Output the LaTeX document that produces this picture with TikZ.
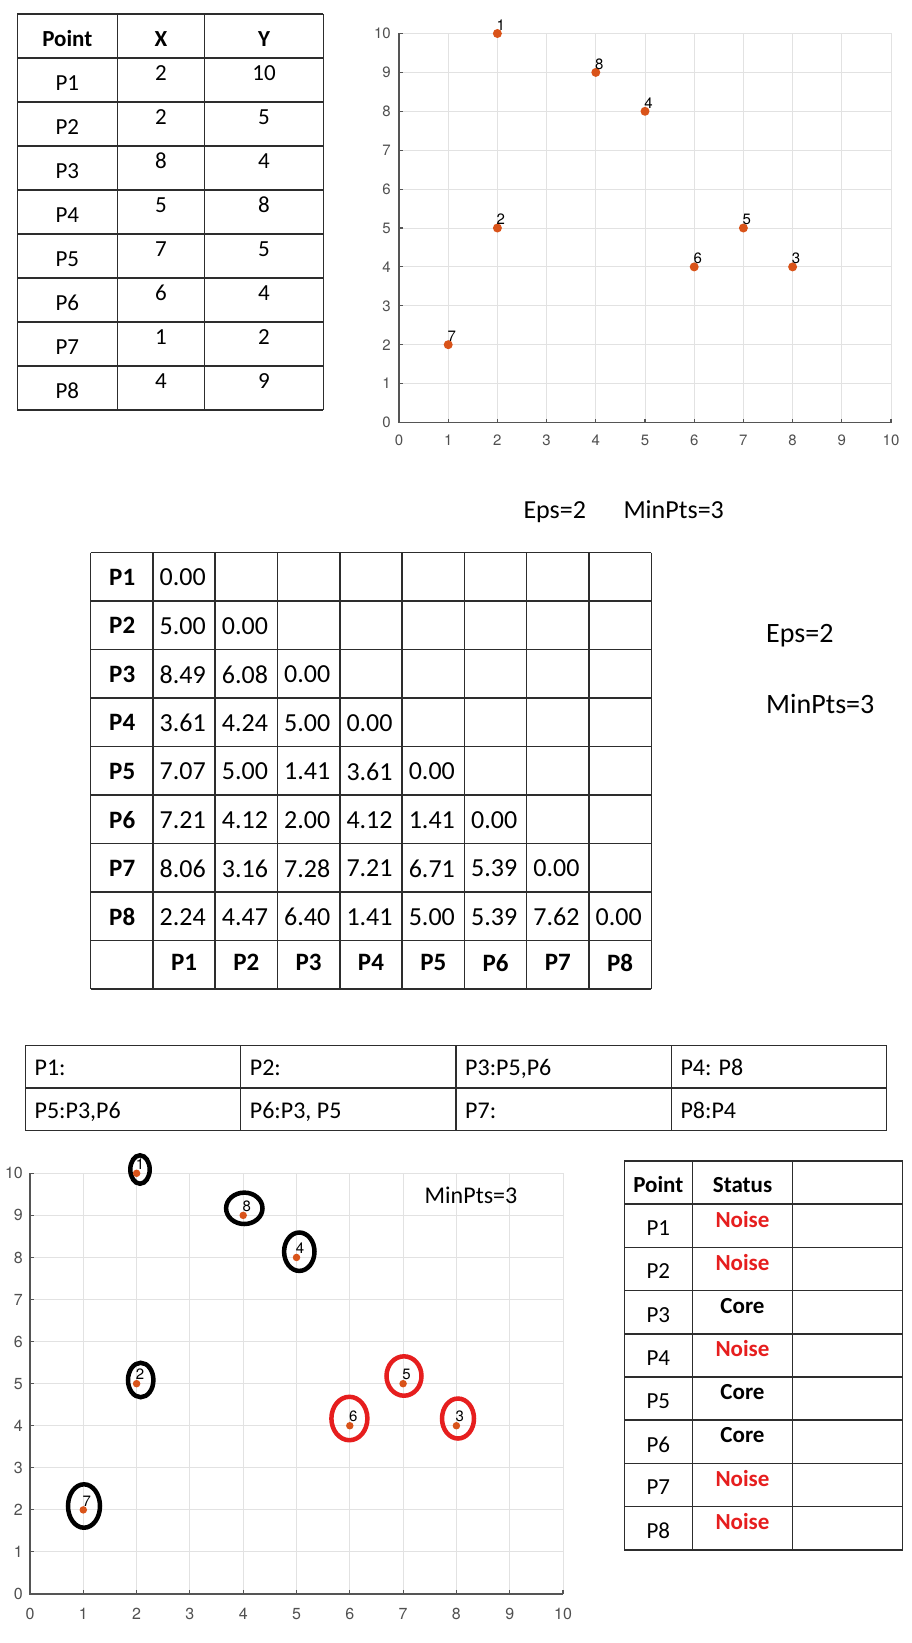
\documentclass[tikz,border=0pt]{standalone}
\usepackage{fontspec}
\setmainfont{Carlito}
\newfontfamily\helv{TeX Gyre Heros}
\definecolor{ptorange}{RGB}{217,83,25}
\definecolor{gridgray}{RGB}{226,226,226}
\definecolor{axisgray}{RGB}{85,85,85}
\definecolor{ticktext}{RGB}{80,80,80}
\definecolor{noisered}{RGB}{230,30,30}
\definecolor{tableline}{RGB}{45,45,45}
\begin{document}
\begin{tikzpicture}[x=1pt,y=-1pt,
  tline/.style={draw=tableline, line width=1.5pt},
  gridc/.style={draw=gridgray, line width=0.9pt},
  axisc/.style={draw=axisgray, line width=1.6pt},
  tickc/.style={draw=axisgray, line width=1.1pt},
  txtA/.style={font=\fontsize{23}{27}\selectfont, inner sep=0pt, text=black},
  txtAb/.style={font=\fontsize{23}{27}\selectfont\bfseries, inner sep=0pt, text=black},
  txtM/.style={font=\fontsize{26}{30}\selectfont, inner sep=0pt, text=black},
  txtMb/.style={font=\fontsize{25}{30}\selectfont\bfseries, inner sep=0pt, text=black},
  txtN/.style={font=\fontsize{24}{28}\selectfont, inner sep=0pt, text=black},
  tickA/.style={font=\helv\fontsize{15}{18}\selectfont, inner sep=0pt, text=ticktext},
  tickB/.style={font=\helv\fontsize{16}{19}\selectfont, inner sep=0pt, text=ticktext},
  ptlbl/.style={font=\helv\fontsize{15}{18}\selectfont, inner sep=0pt, text=black},
  dotA/.style={circle, fill=ptorange, minimum size=9pt, inner sep=0pt},
  dotB/.style={circle, fill=ptorange, minimum size=7.5pt, inner sep=0pt},
  blackring/.style={draw=black, line width=4.5pt},
  redring/.style={draw=noisered, line width=4.5pt}]
\fill[white] (0,0) rectangle (912,1643);
\useasboundingbox (0,0) rectangle (912,1643);

% ---------------- Table 1 ----------------
\foreach \k in {0,...,9} \draw[tline] (17.3,{14+44*\k}) -- (323.3,{14+44*\k});
\foreach \xx in {17.3,117.3,204.7,323.3} \draw[tline] (\xx,14) -- (\xx,410);
\node[txtAb] (t1hp) at (67.3,39) {Point};
\node[txtAb] (t1hx) at (161,39) {X};
\node[txtAb] (t1hy) at (264,39) {Y};
\foreach \xv/\yv [count=\i] in {2/10,2/5,8/4,5/8,7/5,6/4,1/2,4/9} {
  \node[txtA] (t1p\i) at (67.3,{14+44*\i+25}) {P\i};
  \node[txtA] (t1x\i) at (161,{14+44*\i+15}) {\xv};
  \node[txtA] (t1y\i) at (264,{14+44*\i+15}) {\yv};
}

% ---------------- Chart 1 ----------------
\begin{scope}[shift={(399pt,-422.5pt)}, x=49.2pt, y=38.9pt]
  \foreach \i in {1,...,10} \draw[gridc] (\i,0) -- (\i,10);
  \foreach \i in {1,...,10} \draw[gridc] (0,\i) -- (10,\i);
  \draw[axisc] (0,10) -- (0,0) -- (10,0);
  \foreach \i in {0,...,10} {
    \draw[tickc] (\i,0) -- ++(0pt,4pt);
    \draw[tickc] (0,\i) -- ++(4pt,0pt);
    \node[tickA, yshift=-17.5pt] (c1x\i) at (\i,0) {\i};
    \node[tickA, anchor=east, xshift=-8pt] (c1y\i) at (0,\i) {\i};
  }
  \foreach \n/\px/\py in {1/2/10,2/2/5,3/8/4,4/5/8,5/7/5,6/6/4,7/1/2,8/4/9} {
    \node[dotA] (c1p\n) at (\px,\py) {};
    \node[ptlbl, xshift=3.5pt, yshift=8.5pt] (c1l\n) at (\px,\py) {\n};
  }
\end{scope}

% ---------------- Eps / MinPts ----------------
\node[txtM, anchor=base west] (eps1) at (523.3,518.3) {Eps=2};
\node[txtM, anchor=base west] (min1) at (623.3,518.3) {MinPts=3};
\node[font=\fontsize{28}{32}\selectfont, inner sep=0pt, anchor=base west] (eps2) at (766,642.7) {Eps=2};
\node[font=\fontsize{28}{32}\selectfont, inner sep=0pt, anchor=base west] (min2) at (766,713) {MinPts=3};

% ---------------- Distance matrix ----------------
\foreach \k in {0,...,9} \draw[tline] (90.6,{552.7+48.5*\k}) -- (651.3,{552.7+48.5*\k});
\foreach \k in {0,...,9} \draw[tline] ({90.6+62.3*\k},552.7) -- ({90.6+62.3*\k},989.2);
\foreach \i in {1,...,8} {
  \node[txtMb] (mr\i) at (122.2,{552.7+48.5*(\i-1)+24.5}) {P\i};
  \node[txtMb] (mc\i) at ({90.6+62.3*\i+31.15},{552.7+48.5*8+22}) {P\i};
}
\foreach \row [count=\i] in {{0.00},{5.00,0.00},{8.49,6.08,0.00},{3.61,4.24,5.00,0.00},{7.07,5.00,1.41,3.61,0.00},{7.21,4.12,2.00,4.12,1.41,0.00},{8.06,3.16,7.28,7.21,6.71,5.39,0.00},{2.24,4.47,6.40,1.41,5.00,5.39,7.62,0.00}} {
  \foreach \v [count=\j] in \row {
    \node[txtM, anchor=west] (m\i-\j) at ({90.6+62.3*\j+6.5},{552.7+48.5*(\i-1)+24.8}) {\v};
  }
}

% ---------------- Neighbour table ----------------
\foreach \yy in {1045.4,1088,1130.6} \draw[tline] (25.4,\yy) -- (886.6,\yy);
\foreach \k in {0,...,4} \draw[tline] ({25.4+215.3*\k},1045.4) -- ({25.4+215.3*\k},1130.6);
\foreach \t [count=\j] in {P1:,P2:,{P3:P5,P6},P4: P8} {
  \node[txtN, anchor=base west] (na\j) at ({25.4+215.3*(\j-1)+9},1075.6) {\t};
}
\foreach \t [count=\j] in {{P5:P3,P6},{P6:P3, P5},P7:,P8:P4} {
  \node[txtN, anchor=base west] (nb\j) at ({25.4+215.3*(\j-1)+9},1118.4) {\t};
}

% ---------------- Chart 2 ----------------
\begin{scope}[shift={(30pt,-1594pt)}, x=53.3pt, y=42.07pt]
  \foreach \i in {1,...,10} \draw[gridc] (\i,0) -- (\i,10);
  \foreach \i in {1,...,10} \draw[gridc] (0,\i) -- (10,\i);
  \draw[axisc] (0,10) -- (0,0) -- (10,0);
  \foreach \i in {0,...,10} {
    \draw[tickc] (\i,0) -- ++(0pt,4pt);
    \draw[tickc] (0,\i) -- ++(4pt,0pt);
    \node[tickB, yshift=-20pt] (c2x\i) at (\i,0) {\i};
    \node[tickB, anchor=east, xshift=-7pt] (c2y\i) at (0,\i) {\i};
  }
\end{scope}
\draw[blackring] (140,1169.5) ellipse [x radius=9.7pt, y radius=14.2pt];
\draw[blackring] (244.3,1208.3) ellipse [x radius=18.2pt, y radius=15.7pt];
\draw[blackring] (299.3,1251.7) ellipse [x radius=15.2pt, y radius=19.2pt];
\draw[blackring] (140.7,1380) ellipse [x radius=12.7pt, y radius=17.2pt];
\draw[blackring] (84,1506) ellipse [x radius=16pt, y radius=21.7pt];
\draw[redring] (349.4,1418.5) ellipse [x radius=18pt, y radius=21.7pt];
\draw[redring] (404,1376) ellipse [x radius=17.5pt, y radius=19.7pt];
\draw[redring] (458,1418.5) ellipse [x radius=16pt, y radius=20pt];
\begin{scope}[shift={(30pt,-1594pt)}, x=53.3pt, y=42.07pt]
  \foreach \n/\px/\py in {1/2/10,2/2/5,3/8/4,4/5/8,5/7/5,6/6/4,7/1/2,8/4/9} {
    \node[dotB] (c2p\n) at (\px,\py) {};
    \node[ptlbl, xshift=3.5pt, yshift=9pt] (c2l\n) at (\px,\py) {\n};
  }
\end{scope}
\node[txtN, anchor=base] (min3) at (471,1203) {MinPts=3};

% ---------------- Status table ----------------
\foreach \k in {0,...,9} \draw[tline] (624.3,{1161+43.2*\k}) -- (902.7,{1161+43.2*\k});
\foreach \xx in {624.3,692.3,792.7,902.7} \draw[tline] (\xx,1161) -- (\xx,1549.8);
\node[txtAb] (sh1) at (658.3,1185) {Point};
\node[txtAb] (sh2) at (742.5,1185) {Status};
\foreach \s/\c [count=\i] in {Noise/noisered,Noise/noisered,Core/black,Noise/noisered,Core/black,Core/black,Noise/noisered,Noise/noisered} {
  \node[txtA] (sp\i) at (658.3,{1161+43.2*\i+21.6+2.5}) {P\i};
  \node[txtAb, text=\c] (ss\i) at (742.5,{1161+43.2*\i+21.6-6.5}) {\s};
}
\end{tikzpicture}
\end{document}
